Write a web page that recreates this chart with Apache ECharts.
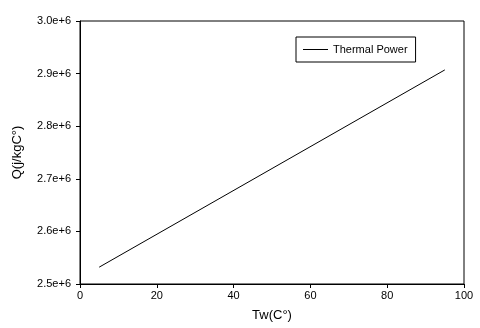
<!DOCTYPE html>
<html><head><meta charset="utf-8">
<script src="https://cdn.jsdelivr.net/npm/echarts@6/dist/echarts.min.js"></script>
<style>html,body{margin:0;padding:0;background:#fff}#c{width:480px;height:328px}</style>
</head><body><div id="c"></div>
<script>
const seriesName = 'Thermal Power';
const twValues = [5, 95];
const qValues = [2532000, 2907000];
const xTicks = [0, 20, 40, 60, 80, 100];
const yTicks = [2.5e6, 2.6e6, 2.7e6, 2.8e6, 2.9e6, 3.0e6];

const chart = echarts.init(document.getElementById('c'), null, {renderer: 'canvas'});
const font = 'Liberation Sans, Arial, sans-serif';
chart.setOption({
  animation: false,
  backgroundColor: '#fff',
  grid: {left: 80, right: 16, top: 21, bottom: 44, show: true, borderColor: '#000', borderWidth: 1, backgroundColor: 'transparent'},
  legend: {
    left: 296, top: 37,
    data: [{name: seriesName, icon: 'rect'}],
    itemWidth: 25, itemHeight: 1, itemGap: 6,
    borderColor: '#000', borderWidth: 1, padding: [7, 8, 7, 7],
    textStyle: {fontFamily: font, fontSize: 11, color: '#000'},
    itemStyle: {color: '#000'}
  },
  xAxis: {
    type: 'value', min: xTicks[0], max: xTicks[xTicks.length - 1], interval: 20,
    name: 'Tw(C°)', nameLocation: 'middle', nameGap: 25,
    nameTextStyle: {fontFamily: font, fontSize: 13, color: '#000'},
    axisLine: {show: true, lineStyle: {color: '#000', width: 1}},
    axisTick: {show: true, length: 4, lineStyle: {color: '#000'}},
    axisLabel: {fontFamily: font, fontSize: 11, color: '#000', margin: 6},
    splitLine: {show: false}
  },
  yAxis: {
    type: 'value', min: yTicks[0], max: yTicks[yTicks.length - 1], interval: 1e5,
    name: 'Q(j/kgC°)', nameLocation: 'middle', nameGap: 56,
    nameTextStyle: {fontFamily: font, fontSize: 13, color: '#000'},
    axisLine: {show: true, lineStyle: {color: '#000', width: 1}},
    axisTick: {show: true, length: 4, lineStyle: {color: '#000'}},
    axisLabel: {fontFamily: font, fontSize: 11, color: '#000', margin: 9,
      formatter: v => (v / 1e6).toFixed(1) + 'e+6'},
    splitLine: {show: false}
  },
  series: [{
    name: seriesName, type: 'line', symbol: 'none',
    data: twValues.map((x, i) => [x, qValues[i]]),
    lineStyle: {color: '#000', width: 1},
    itemStyle: {color: '#000'}
  }]
});
</script></body></html>
